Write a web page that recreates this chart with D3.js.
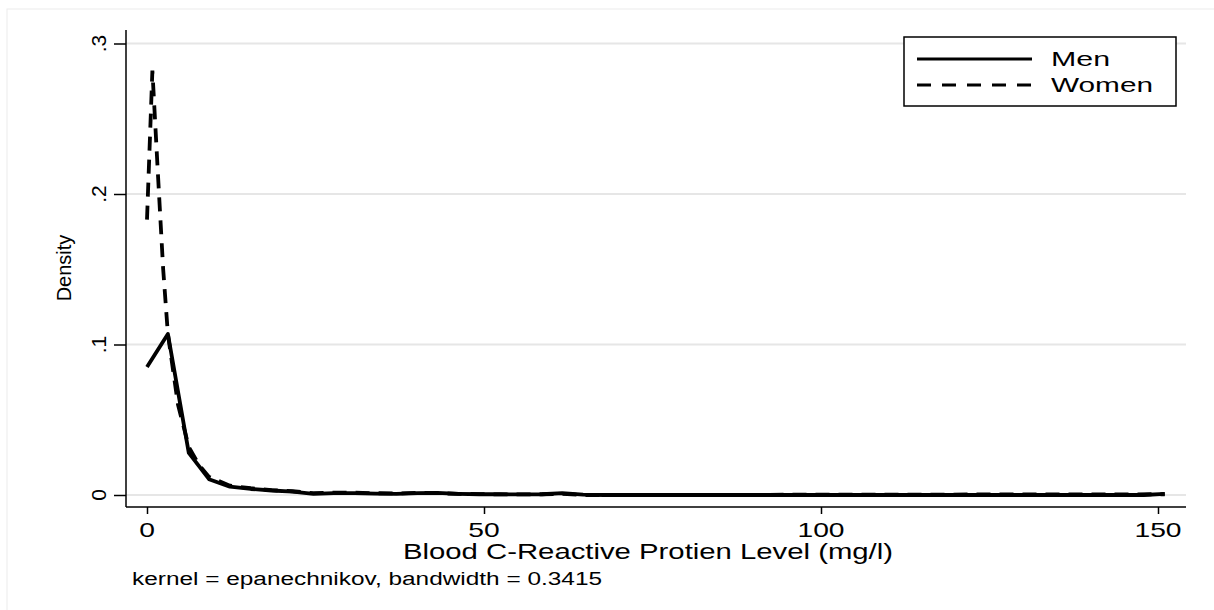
<script src="https://d3js.org/d3.v7.min.js"></script>
<html>
<head>
<style>
  body { margin: 0; background: #fff; }
  text { font-family: "Liberation Sans", Arial, sans-serif; fill: #000; }
</style>
</head>
<body>
<div id="myPlot"></div>
<script>
    // CRP grid (mg/l) and kernel density estimates
    const menX = [0, 3.1, 6.2, 9.2, 12.3, 15.4, 18.5, 21.6, 24.7, 27.7, 30.8, 33.9, 37.0, 40.1, 43.1,
        46.2, 49.3, 52.4, 55.5, 58.6, 61.6, 64.7, 67.8, 70.9, 74.0, 77.0, 80.1, 83.2, 86.3, 89.4,
        92.5, 95.5, 98.6, 101.7, 104.8, 107.9, 110.9, 114.0, 117.1, 120.2, 123.3, 126.4, 129.4,
        132.5, 135.6, 138.7, 141.8, 144.9, 147.9, 151.0];
    const menY = [0.085, 0.107, 0.028, 0.0105, 0.0055, 0.004, 0.003, 0.0022, 0.0008, 0.0012, 0.0012,
        0.0009, 0.0007, 0.0012, 0.0014, 0.0008, 0.0005, 0.0005, 0.0004, 0.0005, 0.0012, 0.0002,
        0, 0, 0, 0, 0, 0, 0, 0, 0, 0, 0, 0, 0, 0, 0, 0, 0, 0, 0, 0, 0, 0, 0, 0, 0, 0, 0, 0.0008];
    const womenX = [0, 0.8, 1.6, 2.4, 3.1, 4.6, 6.2, 7.7, 9.2, 12.3, 15.4, 18.5, 21.6, 24.7, 27.7, 30.8,
        33.9, 37.0, 40.1, 43.1, 46.2, 49.3, 52.4, 55.5, 58.6, 61.6, 64.7, 67.8, 151.0];
    const womenY = [0.183, 0.282, 0.215, 0.150, 0.107, 0.060, 0.032, 0.020, 0.012, 0.0062, 0.0045,
        0.0032, 0.0025, 0.0012, 0.0015, 0.0015, 0.0012, 0.001, 0.0015, 0.0012, 0.0008, 0.0006,
        0.0004, 0.0004, 0.0005, 0.0008, 0, 0, 0.0005];

    const seriesNames = ['Men', 'Women'];
    const yTicks = [0, 0.1, 0.2, 0.3];
    const xTicks = [0, 50, 100, 150];

    const width = 1214;
    const height = 610;

    const svg = d3.select('#myPlot').append('svg')
        .attr('width', width)
        .attr('height', height);

    // faint outer frame
    svg.append('rect')
        .attr('x', 7).attr('y', 9)
        .attr('width', 1400).attr('height', 800)
        .attr('fill', 'none')
        .attr('stroke', '#ececec')
        .attr('stroke-width', 1);

    const x = d3.scaleLinear().domain([0, 150]).range([147, 1158]);
    const y = d3.scaleLinear().domain([0, 0.3]).range([495, 43.5]);

    const plotLeft = 126, plotRight = 1186, plotTop = 30, plotBottom = 507;

    // grid lines
    svg.append('g').selectAll('line').data(yTicks).enter().append('line')
        .attr('x1', plotLeft).attr('x2', plotRight)
        .attr('y1', d => y(d)).attr('y2', d => y(d))
        .attr('stroke', '#e6e6e6')
        .attr('stroke-width', 2);

    // axes
    const yAxis = svg.append('g')
        .attr('transform', `translate(${plotLeft},0)`)
        .call(d3.axisLeft(y).tickValues(yTicks).tickSize(12).tickFormat(''));
    yAxis.select('.domain').remove();
    yAxis.selectAll('line').attr('stroke', '#000').attr('stroke-width', 1.5);

    const xAxis = svg.append('g')
        .attr('transform', `translate(0,${plotBottom})`)
        .call(d3.axisBottom(x).tickValues(xTicks).tickSize(7).tickFormat(''));
    xAxis.select('.domain').remove();
    xAxis.selectAll('line').attr('stroke', '#000').attr('stroke-width', 1.5);

    svg.append('line')
        .attr('x1', plotLeft).attr('x2', plotLeft)
        .attr('y1', plotTop).attr('y2', plotBottom)
        .attr('stroke', '#000').attr('stroke-width', 1.5);
    svg.append('line')
        .attr('x1', plotLeft).attr('x2', plotRight)
        .attr('y1', plotBottom).attr('y2', plotBottom)
        .attr('stroke', '#000').attr('stroke-width', 1.5);

    // rotated y tick labels
    const fmtY = d => d === 0 ? '0' : d3.format('.1f')(d).replace(/^0/, '');
    svg.append('g').selectAll('text').data(yTicks).enter().append('text')
        .attr('transform', d => `translate(106,${y(d)}) rotate(-90)`)
        .attr('text-anchor', 'middle')
        .style('font-size', '21px')
        .text(fmtY);

    // the original's text is wide, so stretch it to the widths seen there
    const xTickWidth = d => String(d).length * 15.7;
    svg.append('g').selectAll('text').data(xTicks).enter().append('text')
        .attr('x', d => x(d) - xTickWidth(d) / 2)
        .attr('y', 537)
        .attr('textLength', xTickWidth)
        .attr('lengthAdjust', 'spacingAndGlyphs')
        .style('font-size', '21px')
        .text(d => d);

    svg.append('text')
        .attr('transform', 'translate(71,268) rotate(-90)')
        .attr('text-anchor', 'middle')
        .style('font-size', '20px')
        .text('Density');

    svg.append('text')
        .attr('x', 403).attr('y', 559)
        .attr('textLength', 490)
        .attr('lengthAdjust', 'spacingAndGlyphs')
        .style('font-size', '22px')
        .text('Blood C-Reactive Protien Level (mg/l)');

    svg.append('text')
        .attr('x', 132).attr('y', 585)
        .attr('textLength', 470)
        .attr('lengthAdjust', 'spacingAndGlyphs')
        .style('font-size', '18px')
        .text('kernel = epanechnikov, bandwidth = 0.3415');

    // density lines
    const line = d3.line().x(d => x(d[0])).y(d => y(d[1]));
    const menData = menX.map((v, i) => [v, menY[i]]);
    const womenData = womenX.map((v, i) => [v, womenY[i]]);

    svg.append('path').datum(menData)
        .attr('d', line)
        .attr('fill', 'none')
        .attr('stroke', '#000')
        .attr('stroke-width', 3.8)
        .attr('stroke-linejoin', 'round');

    svg.append('path').datum(womenData)
        .attr('d', line)
        .attr('fill', 'none')
        .attr('stroke', '#000')
        .attr('stroke-width', 3.8)
        .attr('stroke-dasharray', '14,9');

    // legend
    const legend = svg.append('g');
    legend.append('rect')
        .attr('x', 904).attr('y', 37)
        .attr('width', 272).attr('height', 69)
        .attr('fill', '#fff')
        .attr('stroke', '#000')
        .attr('stroke-width', 1.5);
    const legY = [59, 85];
    const legW = [59, 102];
    seriesNames.forEach((name, i) => {
        legend.append('line')
            .attr('x1', 917).attr('x2', 1032)
            .attr('y1', legY[i]).attr('y2', legY[i])
            .attr('stroke', '#000')
            .attr('stroke-width', 3)
            .attr('stroke-dasharray', i === 1 ? '14,11' : null);
        legend.append('text')
            .attr('x', 1051).attr('y', legY[i] + 7)
            .attr('textLength', legW[i])
            .attr('lengthAdjust', 'spacingAndGlyphs')
            .style('font-size', '20px')
            .text(name);
    });
</script>
</body>
</html>
